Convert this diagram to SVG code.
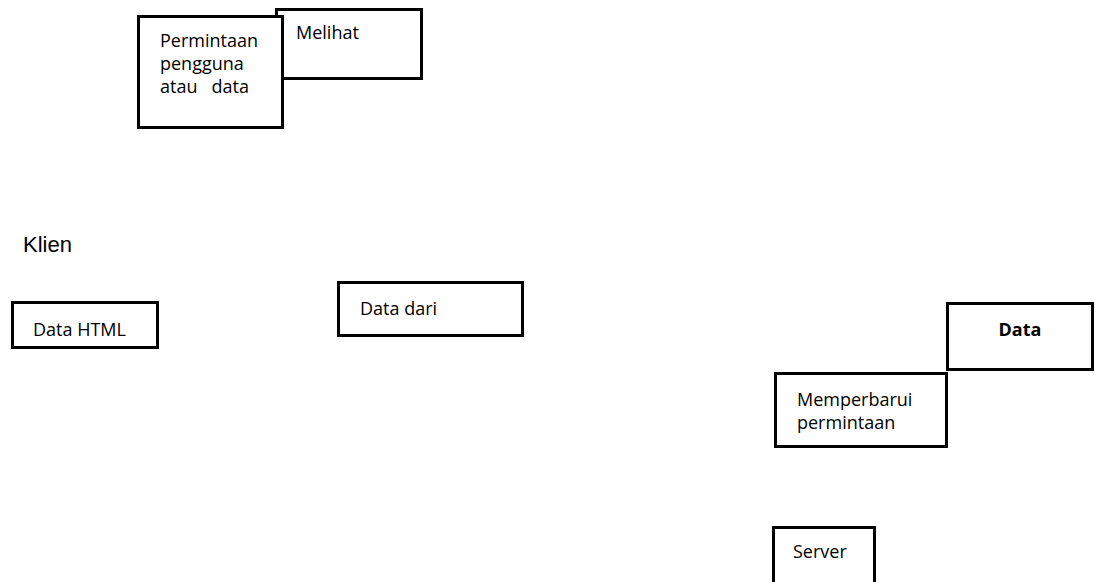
<svg xmlns="http://www.w3.org/2000/svg" width="1095" height="582" viewBox="0 0 1095 582">
<style>
.box{fill:#fff;stroke:#000;stroke-width:3}
.t{font-family:"Open Sans","Noto Sans","Liberation Sans",sans-serif;font-size:18px;fill:#000}
.b{font-weight:bold}
.k{font-family:"Liberation Sans",Arial,sans-serif;font-size:22px;fill:#000}
</style>
<rect width="1095" height="582" fill="#fff"/>
<g id="connectors"></g>
<g id="melihat">
<rect class="box" x="276.5" y="9.5" width="145" height="69"/>
<text class="t" x="296" y="39">Melihat</text>
</g>
<g id="permintaan">
<rect class="box" x="138.5" y="16.5" width="144" height="111"/>
<text class="t" x="160" y="47">Permintaan</text>
<text class="t" x="160" y="70">pengguna</text>
<text class="t" x="160" y="93" xml:space="preserve">atau   data</text>
</g>
<text id="klien" class="k" x="23" y="252">Klien</text>
<g id="data-html">
<rect class="box" x="12.5" y="302.5" width="145" height="45"/>
<text class="t" x="33" y="336">Data HTML</text>
</g>
<g id="data-dari">
<rect class="box" x="338.5" y="282.5" width="184" height="53"/>
<text class="t" x="360" y="315">Data dari</text>
</g>
<g id="data">
<rect class="box" x="947.5" y="303.5" width="145" height="66"/>
<text class="t b" x="1020" y="336" text-anchor="middle">Data</text>
</g>
<g id="memperbarui">
<rect class="box" x="775.5" y="373.5" width="171" height="73"/>
<text class="t" x="797" y="406">Memperbarui</text>
<text class="t" x="797" y="429">permintaan</text>
</g>
<g id="server">
<rect class="box" x="773.5" y="527.5" width="101" height="60"/>
<text class="t" x="793" y="558">Server</text>
</g>
</svg>
